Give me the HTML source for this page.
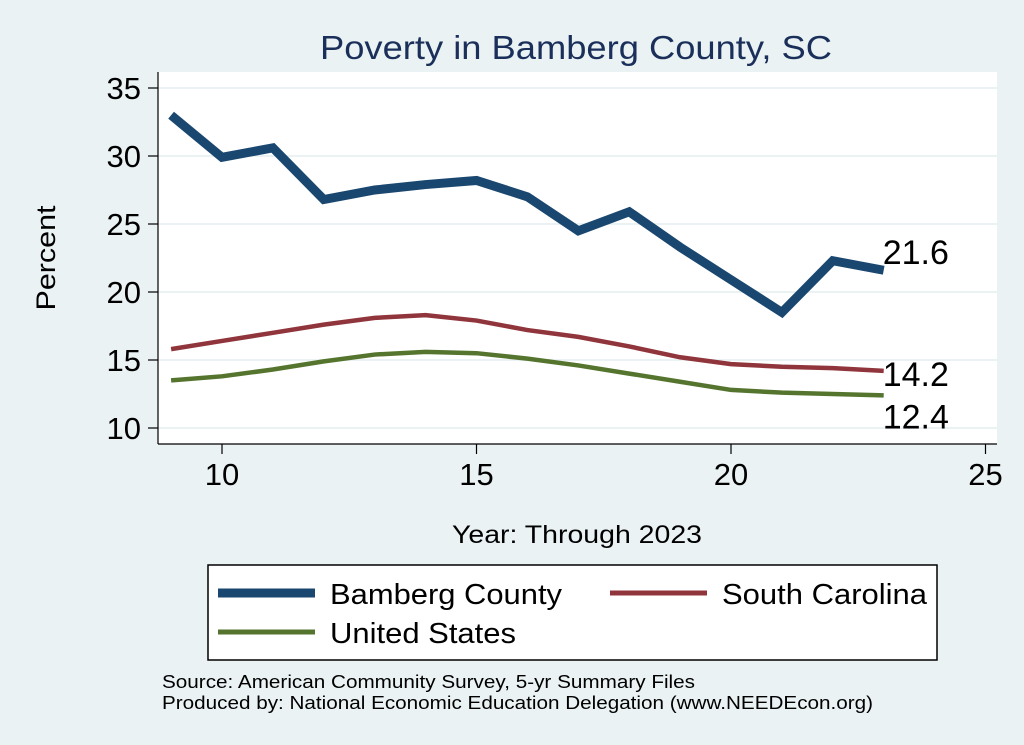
<!DOCTYPE html>
<html><head><meta charset="utf-8"><style>
body{margin:0;background:#eaf2f3;font-family:"Liberation Sans",Arial,sans-serif;}
svg{display:block}
</style></head><body>
<svg width="1024" height="745" viewBox="0 0 1024 745">
<rect x="0" y="0" width="1024" height="745" fill="#eaf2f3"/>
<text x="320" y="59" font-size="33" fill="#1a2f5a" textLength="512" lengthAdjust="spacingAndGlyphs">Poverty in Bamberg County, SC</text>
<rect x="158" y="72" width="839" height="372" fill="#fff"/>
<g id="grid"></g><g id="axes"></g><g id="series"></g>
<text x="55" y="258" font-size="27" text-anchor="middle" transform="rotate(-90 55 258)" textLength="105" lengthAdjust="spacingAndGlyphs">Percent</text>
<text x="452" y="543" font-size="25" textLength="250" lengthAdjust="spacingAndGlyphs">Year: Through 2023</text>
<g>
<rect x="208" y="565" width="729" height="95" fill="#fff" stroke="#000" stroke-width="1.5"/>
<line x1="218" y1="593" x2="315" y2="593" stroke="#1a476f" stroke-width="9"/>
<text x="330" y="604" font-size="29" textLength="232" lengthAdjust="spacingAndGlyphs">Bamberg County</text>
<line x1="610" y1="593" x2="707" y2="593" stroke="#90353b" stroke-width="5"/>
<text x="722" y="604" font-size="29" textLength="205" lengthAdjust="spacingAndGlyphs">South Carolina</text>
<line x1="218" y1="632" x2="315" y2="632" stroke="#55752f" stroke-width="5"/>
<text x="330" y="643" font-size="29" textLength="186" lengthAdjust="spacingAndGlyphs">United States</text>
</g>
<text x="162" y="688" font-size="18" textLength="533" lengthAdjust="spacingAndGlyphs">Source: American Community Survey, 5-yr Summary Files</text>
<text x="162" y="709" font-size="18" textLength="711" lengthAdjust="spacingAndGlyphs">Produced by: National Economic Education Delegation (www.NEEDEcon.org)</text>
</svg>
<script>
const years=[9,10,11,12,13,14,15,16,17,18,19,20,21,22,23];
const bamberg=[33.0,29.9,30.6,26.8,27.5,27.9,28.2,27.0,24.5,25.9,23.3,20.9,18.5,22.3,21.6];
const southCarolina=[15.8,16.4,17.0,17.6,18.1,18.3,17.9,17.2,16.7,16.0,15.2,14.7,14.5,14.4,14.2];
const unitedStates=[13.5,13.8,14.3,14.9,15.4,15.6,15.5,15.1,14.6,14.0,13.4,12.8,12.6,12.5,12.4];
const yTicks=[10,15,20,25,30,35];
const xTicks=[10,15,20,25];
const NS="http://www.w3.org/2000/svg";
const X=v=>222+(v-10)*50.9;
const Y=v=>428-(v-10)*13.6;
function mk(tag,attrs,parent,text){const e=document.createElementNS(NS,tag);for(const k in attrs)e.setAttribute(k,attrs[k]);if(text!=null)e.textContent=text;document.getElementById(parent).appendChild(e);return e;}
yTicks.forEach(t=>{
 const g=mk('line',{x1:158,x2:997,y1:Y(t),y2:Y(t),stroke:'#eaf2f3','stroke-width':2},'grid');
 
 
 const tk=mk('line',{x1:148,x2:158,y1:Y(t),y2:Y(t),stroke:'#000','stroke-width':1.2},'axes');
 
 
 const lb=mk('text',{x:141,y:Y(t)+11,'font-size':31,'text-anchor':'end'},'axes',t);
 
 
});
xTicks.forEach(t=>{
 const tk=mk('line',{x1:X(t),x2:X(t),y1:444,y2:454,stroke:'#000','stroke-width':1.2},'axes');
 
 
 const lb=mk('text',{x:X(t),y:485,'font-size':31,'text-anchor':'middle'},'axes',t);
 
 
});
const ya=mk('line',{x1:158,x2:158,y1:72,y2:444,stroke:'#000','stroke-width':1.2},'axes');


const xa=mk('line',{x1:158,x2:997,y1:444,y2:444,stroke:'#000','stroke-width':1.2},'axes');


function series(vals,color,w,name,dy){
 const p=mk('polyline',{points:years.map((y,i)=>X(y)+','+Y(vals[i])).join(' '),fill:'none',stroke:color,'stroke-width':w,'stroke-linejoin':'miter'},'series');
 
 
 const n=vals.length-1;
 const l=mk('text',{x:X(years[n])-1,y:Y(vals[n])+dy,'font-size':34},'series',vals[n].toFixed(1));
 
 
}
series(unitedStates,'#55752f',4.5,'united-states',33);
series(southCarolina,'#90353b',4.5,'south-carolina',15);
series(bamberg,'#1a476f',9,'bamberg-county',-6);
</script>
</body></html>
